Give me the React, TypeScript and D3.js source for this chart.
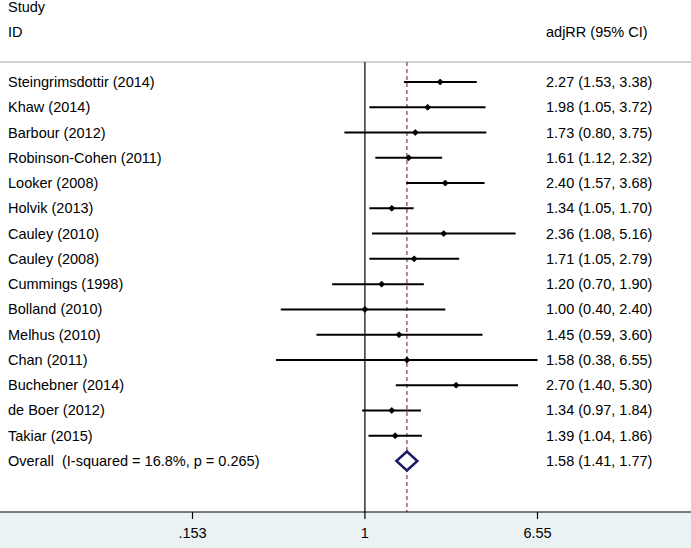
import React from "react";
import * as d3 from "d3";

const studies = [
  "Steingrimsdottir (2014)",
  "Khaw (2014)",
  "Barbour (2012)",
  "Robinson-Cohen (2011)",
  "Looker (2008)",
  "Holvik (2013)",
  "Cauley (2010)",
  "Cauley (2008)",
  "Cummings (1998)",
  "Bolland (2010)",
  "Melhus (2010)",
  "Chan (2011)",
  "Buchebner (2014)",
  "de Boer (2012)",
  "Takiar (2015)",
];
const rr = [2.27, 1.98, 1.73, 1.61, 2.4, 1.34, 2.36, 1.71, 1.2, 1.0, 1.45, 1.58, 2.7, 1.34, 1.39];
const lower = [1.53, 1.05, 0.8, 1.12, 1.57, 1.05, 1.08, 1.05, 0.7, 0.4, 0.59, 0.38, 1.4, 0.97, 1.04];
const upper = [3.38, 3.72, 3.75, 2.32, 3.68, 1.7, 5.16, 2.79, 1.9, 2.4, 3.6, 6.55, 5.3, 1.84, 1.86];
const overallLabel = "Overall  (I-squared = 16.8%, p = 0.265)";
const overall = { rr: 1.58, lo: 1.41, hi: 1.77 };
const tickValues = [0.153, 1, 6.55];
const tickLabels = [".153", "1", "6.55"];

const W = 691;
const H = 548;
const FONT = "'Liberation Sans', Arial, sans-serif";

const fmt = (v: number) => v.toFixed(2);

export default function App() {
  const x = d3.scaleLog().domain([0.153, 6.55]).range([192.5, 537.5]);
  const rows = [...studies.map((_, i) => i), studies.length];
  const y = d3.scalePoint<number>().domain(rows).range([82, 461]);
  const axisY = 512;
  const topY = 62;
  const colX = 546;
  const fs = 14.5;
  const oy = y(studies.length)!;
  const dh = 9.5;

  return (
    <svg
      width={W}
      height={H}
      style={{ position: "absolute", left: 0, top: 0, background: "#fff" }}
      fontFamily={FONT}
    >
      <rect x={0} y={axisY} width={W} height={H - axisY} fill="#EAF2F3" />
      <text x={8} y={7} fontSize={fs} dominantBaseline="central" fill="#000">Study</text>
      <text x={8} y={32} fontSize={fs} dominantBaseline="central" fill="#000">ID</text>
      <text x={colX} y={32} fontSize={fs} dominantBaseline="central" fill="#000">adjRR (95% CI)</text>
      <line x1={0} x2={W} y1={topY} y2={topY} stroke="#C4C4C4" strokeWidth={1.5} />

      {/* null line */}
      <line x1={x(1)} x2={x(1)} y1={topY} y2={axisY} stroke="#000" strokeWidth={1.2} />
      {/* overall dashed line */}
      <line
        x1={x(overall.rr)}
        x2={x(overall.rr)}
        y1={topY}
        y2={axisY}
        stroke="#7D3A52"
        strokeWidth={1.2}
        strokeDasharray="4,3"
      />

      {studies.map((s, i) => {
        const yy = y(i)!;
        const cx = x(rr[i]);
        return (
          <g key={s}>
            <text x={8} y={yy} fontSize={fs} dominantBaseline="central" fill="#000">{s}</text>
            <line x1={x(lower[i])} x2={x(upper[i])} y1={yy} y2={yy} stroke="#000" strokeWidth={2} />
            <path
              d={`M${cx - 3},${yy} L${cx},${yy - 3} L${cx + 3},${yy} L${cx},${yy + 3} Z`}
              fill="#000"
              stroke="#000"
              strokeWidth={0.8}
            />
            <text x={colX} y={yy} fontSize={fs} dominantBaseline="central" fill="#000">
              {`${fmt(rr[i])} (${fmt(lower[i])}, ${fmt(upper[i])})`}
            </text>
          </g>
        );
      })}

      <text x={8} y={oy} fontSize={fs} dominantBaseline="central" fill="#000" style={{ whiteSpace: "pre" }}>
        {overallLabel}
      </text>
      <path
        d={`M${x(overall.lo)},${oy} L${x(overall.rr)},${oy - dh} L${x(overall.hi)},${oy} L${x(overall.rr)},${oy + dh} Z`}
        fill="#fff"
        stroke="#1C1C66"
        strokeWidth={2.5}
      />
      <text x={colX} y={oy} fontSize={fs} dominantBaseline="central" fill="#000">
        {`${fmt(overall.rr)} (${fmt(overall.lo)}, ${fmt(overall.hi)})`}
      </text>

      {/* axis */}
      <line x1={0} x2={W} y1={axisY} y2={axisY} stroke="#000" strokeWidth={1.2} />
      {tickValues.map((t, i) => (
        <g key={t}>
          <line x1={x(t)} x2={x(t)} y1={axisY} y2={axisY + 7} stroke="#000" strokeWidth={1.2} />
          <text x={x(t)} y={533} fontSize={fs} textAnchor="middle" dominantBaseline="central" fill="#000">
            {tickLabels[i]}
          </text>
        </g>
      ))}
    </svg>
  );
}
